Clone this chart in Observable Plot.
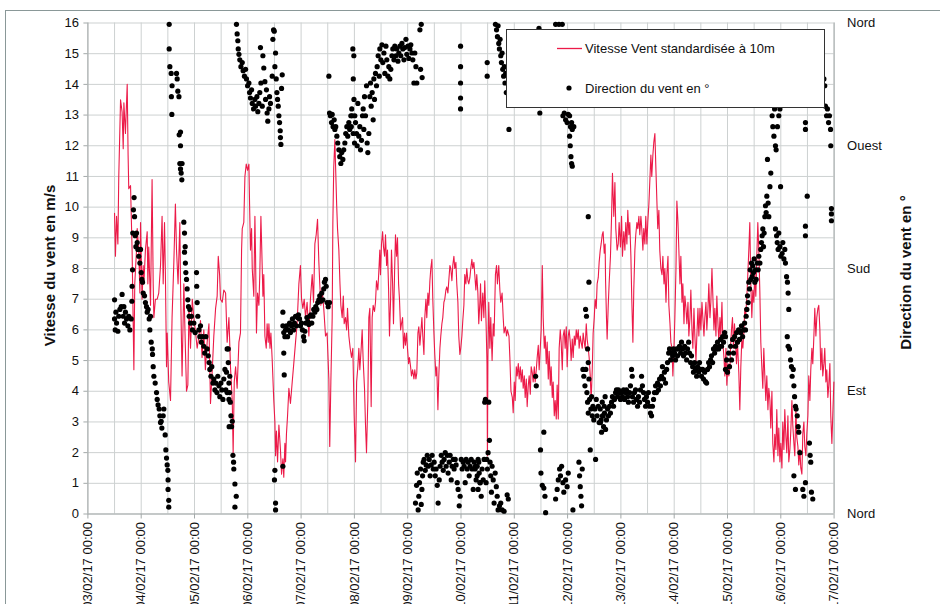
<!DOCTYPE html>
<html><head><meta charset="utf-8">
<script src="https://cdn.jsdelivr.net/npm/d3@7"></script>
<script src="https://cdn.jsdelivr.net/npm/@observablehq/plot@0.6"></script>
<style>
body{margin:0;background:#fff;overflow:hidden}
#chart{width:940px;height:604px;overflow:hidden}
</style>
</head><body><div id="chart"></div>
<script>
// ---- DATA ----
const startISO = "2017-02-03T00:00:00Z";
const endISO = "2017-02-17T00:00:00Z";
const dayTicks = ["2017-02-03","2017-02-04","2017-02-05","2017-02-06","2017-02-07","2017-02-08","2017-02-09","2017-02-10","2017-02-11","2017-02-12","2017-02-13","2017-02-14","2017-02-15","2017-02-16","2017-02-17"];
const speedTicks = [0,1,2,3,4,5,6,7,8,9,10,11,12,13,14,15,16];
const dirTickDegrees = [0,90,180,270,360];
const dirTickNames = ["Nord","Est","Sud","Ouest","Nord"];
const legendLabels = ["Vitesse Vent standardisée à 10m","Direction du vent en °"];
const axisTitles = ["Vitesse du vent en m/s","Direction du vent en °"];

// wind speed [hours since 03/02/17 00:00, m/s]
const windSpeed = [
[12.0,9.8],[12.4,8.4],[12.9,9.7],[13.5,8.8],[13.9,11.0],[14.7,13.5],[15.4,13.1],[15.9,11.9],[16.2,13.4],[16.9,12.4],[17.7,14.0],[18.1,11.7],[18.4,10.6],[19.2,10.7],[19.9,8.6],[20.7,4.7],[21.1,7.5],[21.9,8.6],[22.2,9.3],[22.9,8.6],[23.4,7.2],[23.7,9.5],[24.4,7.0],[24.9,8.1],[25.2,7.5],[25.9,8.6],[26.7,9.2],[27.0,7.5],[27.4,8.7],[28.2,6.8],[28.9,10.9],[29.4,7.5],[29.7,6.4],[30.4,7.0],[31.2,7.0],[31.9,7.2],[32.7,8.1],[33.4,9.7],[33.9,7.5],[34.5,9.5],[34.9,7.8],[35.4,4.8],[35.7,5.9],[36.4,4.3],[37.2,3.7],[37.9,6.4],[38.7,8.2],[39.4,10.1],[39.9,8.6],[40.6,7.5],[41.4,9.5],[41.7,7.5],[42.4,4.5],[43.2,7.5],[43.9,5.4],[44.4,4.0],[45.0,4.2],[45.5,6.7],[46.2,5.4],[47.0,7.0],[47.7,6.4],[48.5,5.9],[49.2,5.4],[50.0,5.8],[50.7,6.3],[51.4,5.1],[52.2,6.0],[52.9,4.7],[53.7,5.6],[54.5,6.2],[55.2,3.6],[56.0,4.7],[56.7,5.8],[57.5,6.7],[58.2,7.1],[58.7,8.4],[59.3,7.8],[59.7,7.0],[60.5,6.9],[61.2,7.3],
[62.0,7.2],[62.7,5.6],[63.5,6.4],[64.2,4.8],[65.0,3.7],[65.4,2.0],[65.9,4.3],[66.5,4.8],[67.2,4.1],[68.0,5.6],[68.7,5.9],[69.2,8.6],[69.5,9.3],[70.2,9.5],[70.7,11.0],[71.3,11.4],[71.9,11.2],[72.5,11.4],[72.8,10.1],[73.2,8.6],[73.7,9.3],[74.0,8.0],[74.7,7.1],[75.2,9.7],[75.5,8.4],[75.9,5.9],[76.4,7.2],[77.0,6.8],[77.4,7.8],[77.9,9.7],[78.3,8.6],[78.8,7.1],[79.2,7.8],[79.7,5.8],[80.3,5.4],[80.7,6.2],[81.2,5.6],[81.5,6.2],[82.0,5.4],[82.4,5.9],[83.0,5.0],[83.7,3.7],[84.2,3.0],[84.5,1.9],[84.9,2.7],[85.4,1.7],[86.0,2.9],[86.7,2.1],[87.2,1.3],[87.8,1.8],[88.2,1.2],[88.7,2.3],[89.0,1.7],[89.4,2.6],[89.9,3.2],[90.5,4.1],[91.2,3.6],[92.0,4.3],[92.7,4.9],[93.5,5.6],[94.2,6.2],[95.0,7.5],[95.7,8.1],[96.2,7.0],[96.8,6.7],[97.4,7.0],[98.0,6.4],[98.7,6.9],[99.5,5.8],[100.2,7.0],[101.0,7.8],[101.6,6.9],[102.2,8.8],[102.8,9.1],[103.4,9.6],[104.0,8.2],[104.4,7.5],[104.9,6.8],[105.5,7.3],[106.2,6.7],[107.0,5.8],[107.7,5.9],[108.5,4.4],[108.9,2.2],[109.4,4.3],[110.0,6.4],[110.3,9.5],[110.7,11.3],[111.2,12.2],[111.5,11.4],[112.0,10.1],[112.4,9.3],[113.0,8.6],[113.5,7.5],[113.9,6.8],[114.5,6.4],[115.0,7.1],[115.4,6.2],[116.0,6.4],[116.5,6.0],[116.9,6.7],[117.5,5.8],[118.1,5.4],[118.7,5.1],[119.3,5.4],[119.9,3.2],[120.5,1.7],
[121.0,4.3],[121.55,4.8],[122.0,5.4],[122.45,4.7],[123.05,5.4],[123.5,6.0],[123.95,5.0],[124.55,4.1],[125.0,2.9],[125.45,2.0],[126.05,3.7],[126.5,6.4],[126.95,6.7],[127.55,3.5],[128.0,6.4],[128.45,6.8],[129.05,6.6],[129.5,6.9],[129.95,7.6],[130.55,7.3],[131.0,7.9],[131.45,8.6],[131.75,7.8],[132.2,8.8],[132.7,9.2],[133.1,8.7],[133.6,8.4],[134.0,9.1],[134.5,8.1],[134.9,8.6],[135.4,7.3],[135.8,5.8],[136.3,7.0],[136.7,8.6],[137.2,7.5],[137.6,6.2],[138.1,7.9],[138.5,9.1],[139.0,8.4],[139.4,9.0],[139.9,7.5],[140.3,7.0],[140.8,6.0],[141.2,6.2],[141.7,6.4],[142.1,5.4],[142.6,5.9],[143.0,5.5],[143.5,5.9],[143.9,5.4],[144.4,4.9],[144.8,5.1],[145.3,4.8],[145.7,4.5],[146.2,4.7],[146.8,4.4],[147.2,4.7],[147.7,4.4],[148.1,4.6],[148.6,5.9],[149.0,6.1],[149.5,5.5],[149.9,5.9],[150.4,6.4],[150.8,5.8],[151.3,5.2],[151.7,6.4],[152.2,7.0],[152.6,6.4],[153.1,7.2],[153.5,6.8],[154.0,7.6],[154.4,8.0],[154.9,8.3],[155.3,7.0],[155.8,5.9],[156.2,5.2],[156.7,4.5],[157.1,4.8],[157.6,3.4],[158.0,4.5],[158.5,5.4],[158.9,5.8],[159.4,6.2],[159.8,6.4],[160.3,6.9],[160.7,7.0],[161.2,7.3],[161.6,7.4],[162.1,7.2],[162.5,7.6],[163.0,8.1],[163.4,8.0],[163.9,7.6],[164.3,8.1],[164.8,8.4],[165.2,8.0],[165.7,8.2],[166.1,7.5],[166.6,6.9],[167.0,5.8],[167.5,5.2],[167.9,5.4],[168.4,5.8],[168.8,6.3],[169.3,6.8],[169.7,7.8],[170.2,7.5],[170.6,8.0],[171.1,7.6],[171.5,7.5],[172.0,7.7],[172.4,8.0],[172.9,8.3],[173.3,8.0],[173.8,8.2],[174.2,7.8],[174.7,7.3],[175.1,7.8],[175.6,7.2],[176.0,6.2],[176.5,6.9],
[176.8,7.5],[177.2,6.3],[177.8,7.2],[178.3,6.4],[178.7,7.6],[179.3,6.2],[179.7,4.9],[179.9,1.9],[180.1,5.0],[180.5,6.9],[181.0,5.4],[181.4,6.4],[182.0,5.0],[182.5,6.2],[182.9,5.8],[183.5,7.8],[184.0,8.1],[184.4,7.5],[185.0,8.1],[185.5,7.3],[185.9,6.9],[186.5,7.2],[187.0,6.4],[187.4,5.9],[188.0,6.1],[188.5,5.8],[188.9,6.0],[189.6,5.8],[190.0,5.1],[190.5,4.0],[191.1,3.8],[191.5,3.3],[192.0,4.3],[192.4,3.7],[192.9,4.8],[193.3,4.5],[193.8,4.9],[194.2,4.4],[194.7,4.8],[195.1,4.3],[195.6,4.7],[196.0,4.1],[196.5,4.5],[196.9,3.8],[197.4,4.4],[197.8,3.5],[198.3,4.2],[198.7,4.5],[199.2,3.9],[199.6,4.8],[200.1,4.6],[200.5,4.3],[201.0,4.8],[201.4,4.3],[201.9,4.7],[202.3,5.1],[202.8,5.5],[203.2,4.7],[203.7,5.4],[204.1,6.0],[204.6,8.1],[205.0,6.4],[205.5,5.4],[205.9,5.8],[206.4,4.9],[206.8,5.6],[207.3,4.4],[207.7,5.3],[208.2,4.2],[208.6,4.8],[209.1,3.8],[209.5,4.3],[210.0,3.2],[210.4,3.7],[210.9,3.1],[211.3,4.2],[211.8,3.1],[212.2,5.4],[212.7,6.0],[213.1,5.6],[213.6,4.7],[214.0,5.8],[214.5,6.0],[214.9,5.4],[215.4,6.1],[215.8,4.8],[216.3,5.8],[216.7,6.0],[217.2,5.6],[217.6,5.0],[218.1,5.7],[218.5,5.1],[219.0,5.8],[219.4,5.5],[219.9,6.0],[220.3,5.7],[220.8,6.0],[221.2,5.4],[221.7,5.8],[222.1,5.6],[222.6,5.4],[223.0,5.9],[223.5,5.6],[223.9,5.4],[224.4,6.2],[224.8,5.7],[225.3,5.4],[225.7,5.1],[226.2,4.5],[226.6,3.7],[227.1,4.7],[227.5,5.9],[228.0,6.4],[228.4,7.0],[228.9,6.7],[229.3,7.5],[229.8,7.7],[230.2,8.2],[230.7,8.6],[231.1,8.8],[231.6,9.1],[232.0,9.2],[232.5,8.5],[232.9,8.8],
[233.1,7.6],[233.5,6.4],[233.8,5.7],[234.3,6.8],[234.7,7.5],[235.3,8.4],[235.8,9.7],[236.2,11.1],[236.8,9.7],[237.3,10.8],[237.7,9.3],[238.3,8.6],[238.8,8.8],[239.2,9.5],[239.8,8.7],[240.3,9.7],[240.7,8.4],[241.3,9.2],[241.8,8.6],[242.2,9.5],[242.7,8.8],[243.1,9.9],[243.6,9.1],[244.0,9.5],[244.5,8.4],[244.9,7.0],[245.4,5.6],[245.8,7.3],[246.3,8.6],[246.7,9.1],[247.2,9.5],[247.6,9.3],[248.1,9.7],[248.5,9.1],[249.0,9.7],[249.4,9.3],[249.9,8.6],[250.3,9.3],[250.8,8.8],[251.2,9.7],[251.7,8.8],[252.1,9.5],[252.6,10.1],[253.0,10.8],[253.5,11.7],[253.9,11.0],[254.4,11.7],[254.8,12.1],[255.3,12.4],[255.7,11.4],[256.2,10.2],[256.6,9.3],[257.1,9.9],[257.5,8.6],[258.0,8.0],[258.5,7.8],[258.9,8.4],[259.4,7.5],[259.8,8.0],[260.3,6.9],[260.7,7.8],[261.2,8.4],[261.6,6.8],[262.1,6.2],[262.5,5.6],[263.0,5.4],[263.4,4.5],[263.9,5.4],[264.3,6.4],[264.8,8.0],[265.2,10.2],[265.7,9.5],[266.1,8.6],[266.6,7.5],[267.0,8.4],[267.5,6.9],[267.9,7.5],[268.4,6.2],[268.8,7.1],[269.3,6.7],[269.7,6.2],[270.2,6.9],[270.6,5.8],[271.1,6.4],[271.5,7.3],[272.0,6.0],[272.4,5.4],[272.9,6.7],[273.3,5.8],[273.8,5.0],[274.2,5.8],[274.7,6.7],[275.1,5.8],[275.6,6.7],[276.0,6.0],[276.5,6.9],[276.9,6.4],[277.4,5.8],[277.8,6.4],[278.3,6.9],[278.7,6.0],[279.2,6.7],[279.6,7.5],[280.1,6.4],[280.5,6.9],[281.0,8.0],[281.4,7.1],[281.9,6.0],[282.3,6.7],[282.8,5.8],[283.2,7.1],[283.7,6.2],[284.1,5.6],[284.6,6.4],[285.0,5.8],[285.5,6.9],[285.9,5.6],[286.4,5.1],[286.8,4.5],[287.3,5.4],[287.7,4.2],[288.2,4.9],[288.6,4.5],[289.1,4.8],
[289.35,5.4],[289.8,6.0],[290.25,6.4],[290.7,5.4],[291.15,6.2],[291.6,5.6],[292.05,4.9],[292.5,5.6],[293.1,4.6],[293.55,3.4],[294.0,4.8],[294.45,5.7],[294.9,5.4],[295.35,5.9],[295.8,6.7],[296.25,6.5],[296.85,7.3],[297.6,8.6],[298.05,9.5],[298.5,7.5],[298.95,6.4],[299.4,7.3],[299.85,6.9],[300.3,7.8],[300.75,7.1],[301.2,8.4],[301.65,9.5],[302.1,8.6],[302.55,7.3],[303.0,5.6],[303.45,4.8],[303.9,4.1],[304.35,5.4],[304.8,4.5],[305.25,3.7],[305.7,4.5],[306.2,3.4],[306.6,4.1],[307.1,3.7],[307.5,2.8],[308.0,4.0],[308.4,2.3],[308.9,1.7],[309.3,2.6],[309.8,2.1],[310.2,3.4],[310.7,1.9],[311.1,2.8],[311.6,1.7],[312.0,2.3],[312.5,1.5],[312.9,3.0],[313.4,2.1],[313.8,3.4],[314.3,2.5],[314.7,2.0],[315.2,3.2],[315.6,1.7],[316.1,2.1],[316.5,2.7],[317.0,3.7],[317.4,2.9],[317.9,2.3],[318.3,1.9],[318.8,3.4],[319.2,2.5],[319.7,2.2],[320.1,1.6],[320.6,2.1],[321.0,1.5],[321.5,1.3],[321.9,2.6],[322.4,3.0],[322.8,2.2],[323.3,1.9],[323.7,2.6],[324.2,3.2],[324.6,4.5],[325.1,3.7],[325.5,4.7],[326.0,5.4],[326.4,4.9],[326.9,5.8],[327.3,6.7],[327.8,5.8],[328.2,6.4],[328.7,6.7],[329.1,6.8],[329.6,6.0],[330.0,4.7],[330.5,5.4],[330.9,4.5],[331.4,4.9],[331.8,5.4],[332.3,4.3],[332.7,4.7],[333.2,3.8],[333.6,4.2],[334.1,4.9],[334.5,3.2],[335.0,2.3],[335.4,3.2],[335.9,4.3]
];

// wind direction [hours since 03/02/17 00:00, degrees]
const windDirection = [
[12.0,157],[12.0,143],[12.3,135],[12.6,148],[12.9,140],[13.5,134],[13.9,145],[14.4,150],[15.0,152],[15.4,161],[15.9,145],[16.2,152],[16.5,140],[16.9,148],[17.4,143],[18.0,138],[18.4,145],[18.9,135],[19.5,143],[19.8,156],[19.9,167],[20.1,179],[20.2,206],[20.5,223],[20.8,232],[21.0,218],[21.3,204],[21.6,196],[21.9,206],[22.2,199],[22.5,194],[22.9,189],[23.4,184],[23.7,194],[24.0,177],[24.3,172],[24.6,170],[24.9,162],[25.5,160],[25.9,155],[26.4,152],[26.7,148],[27.1,150],[27.6,143],[27.9,135],[28.2,145],[28.5,126],[29.0,121],[29.1,117],[29.4,108],[29.7,101],[30.3,96],[30.9,89],[31.2,84],[31.6,80],[32.1,77],[32.4,72],[32.7,67],[33.0,68],[33.3,63],[33.9,72],[34.2,77],[34.8,58],[35.1,47],[35.4,41],[35.7,36],[36.0,32],[36.1,25],[36.1,18],[36.4,10],[36.4,5],
[36.6,359],[36.6,341],[36.9,328],[37.5,323],[37.9,314],[37.6,306],[37.8,293],[39.9,323],[40.2,319],[40.5,310],[41.0,306],[41.1,278],[41.7,280],[41.7,270],[41.4,257],[41.7,253],[42.0,250],[42.3,245],[42.4,257],
[43.2,214],[43.5,206],[43.8,196],[43.5,192],[43.9,184],[44.1,177],[44.4,172],[44.7,165],[45.0,157],[45.3,152],[45.6,145],[45.9,150],[46.2,140],[46.6,145],[47.1,135],[47.7,140],[48.3,133],[48.9,177],[49.0,167],[49.2,155],[49.5,145],[50.0,135],[50.4,130],[50.7,138],[51.1,126],[51.6,130],[52.2,123],[52.6,118],[53.1,130],[53.7,121],[54.2,116],[54.6,111],[54.9,106],[55.4,101],[55.8,108],[56.3,96],[56.7,99],[57.2,91],[57.6,96],[58.1,89],[58.5,101],[59.0,94],[59.4,86],[59.9,96],[60.3,91],[60.8,84],[61.2,99],[61.7,106],[62.1,91],[62.7,89],[63.2,121],[63.5,84],[63.6,64],[63.9,101],
[62.7,121],[62.4,104],[63.2,111],[63.5,96],[63.8,89],[64.1,82],[64.4,72],[64.7,64],[65.0,68],[65.3,43],[65.6,38],[65.7,33],[66.2,22],[66.8,13],[66.2,5],
[66.9,359],[67.2,352],[67.5,347],[67.7,341],[68.0,337],[68.4,333],[68.9,328],[69.5,331],[69.9,325],[70.5,321],[71.0,326],[71.4,319],[71.9,314],[72.5,316],[72.8,309],[73.2,305],[73.7,311],[74.0,301],[74.6,297],[75.2,304],[75.5,299],[76.1,306],[76.5,295],[77.0,301],[77.4,309],[77.9,316],[77.7,342],[78.5,299],[78.8,336],[79.2,327],[79.7,317],[80.0,304],[80.4,311],[80.7,294],[81.0,288],[81.5,297],[81.8,306],[82.2,301],[83.0,321],[83.3,348],[83.6,355],[83.9,354],[84.5,338],[84.2,328],[84.8,319],[85.1,309],[85.4,304],[85.7,299],[86.0,292],[86.3,287],[86.6,281],[86.7,276],[86.9,271],[87.5,322],[87.2,312],
[84.2,32],[84.0,25],[84.5,8],[84.5,3],[87.8,35],[87.8,148],[88.2,118],[88.4,102],
[87.8,138],[88.2,133],[88.7,130],[89.0,135],[89.4,138],[89.9,130],[90.3,135],[90.8,140],[91.2,133],[91.7,138],[92.1,143],[92.6,135],[93.0,140],[93.5,145],[93.9,138],[94.4,144],[94.8,146],[95.3,143],[95.7,138],[96.2,140],[96.6,135],[97.1,130],[97.4,127],[97.7,134],[98.1,140],[98.6,144],[99.0,141],[99.5,139],[99.9,145],[100.4,146],[100.8,140],[101.3,145],[101.7,150],[102.2,148],[102.6,152],[103.1,150],[103.5,155],[104.0,157],[104.4,160],[104.9,156],[105.3,162],[105.8,157],[106.2,165],[106.5,170],[107.0,172],[107.3,167],[107.7,155],[108.2,152],[108.8,155],
[108.5,321],[108.8,294],[109.2,292],[109.7,287],[110.0,293],[110.4,284],[110.9,289],[111.2,282],[111.6,284],[112.1,277],[112.5,272],[113.0,267],[113.4,262],[113.9,257],[114.3,265],[114.8,260],[115.2,267],[115.7,272],[116.1,279],[116.6,284],[117.0,277],[117.5,287],[117.9,282],[118.4,292],[118.8,297],[119.3,341],[119.5,319],[119.8,304],[120.2,292],
[118.6,284],[119.0,292],[119.45,279],[119.75,336],[120.05,272],[120.5,287],[120.95,279],[121.25,270],[121.55,301],[122.0,277],[122.45,284],[122.75,267],[123.2,274],[123.65,292],[123.95,297],[124.25,282],[124.55,306],[125.0,292],[125.45,314],[125.75,272],[126.05,265],[126.5,279],[126.95,306],[127.25,316],[127.55,299],[128.0,309],[128.45,289],[128.75,319],[129.05,304],[129.5,323],[129.95,314],[130.25,328],[130.7,336],[131.2,321],[131.45,341],[131.9,333],[132.4,344],[132.8,331],[133.3,338],[133.7,323],[134.2,343],[134.6,333],[135.1,321],[135.5,328],[135.96,319],[136.4,326],[136.9,336],[137.3,341],[137.8,333],[138.2,343],[138.7,336],[139.1,341],[139.6,332],[140.0,338],[140.5,343],[140.9,336],[141.4,345],[141.8,341],[142.3,333],[142.7,342],[143.2,348],[143.6,337],[144.1,343],[144.5,334],[145.0,341],[145.4,344],[145.9,338],[146.3,333],[146.8,316],[147.2,338],[147.7,328],[148.1,316],[149.5,355],[150.1,359],[149.8,326],[150.5,320],
[167.8,343],[167.8,328],[167.8,316],[167.8,305],[167.8,297],
[147.5,8],[148.0,21],[148.3,30],[148.7,3],[149.0,13],[149.3,23],[149.8,33],[150.1,7],[150.4,18],[150.7,28],[151.0,38],[151.4,40],[151.9,32],[152.3,36],[152.8,43],[153.2,35],[153.7,40],[154.1,28],[154.6,36],[155.0,43],[155.5,33],[155.9,38],[156.4,28],[156.8,33],[157.3,21],[157.7,8],[158.2,25],[158.6,35],[159.1,43],[159.5,38],[160.0,32],[160.4,40],[160.9,45],[161.3,35],[161.8,43],[162.2,30],[162.7,38],[163.1,43],[163.6,25],[164.0,35],[164.5,40],[164.9,33],[165.4,40],[165.8,36],[166.3,23],[166.7,18],[167.2,6],[167.6,13],[168.1,40],[168.5,33],[169.0,38],[169.4,35],[169.9,23],[170.3,40],[170.8,33],[171.2,38],[171.7,28],[172.1,35],[172.6,40],[173.0,33],[173.5,18],[173.9,38],[174.4,33],[174.8,25],[175.3,35],[175.7,40],[176.2,30],[176.6,23],
[174.5,35],[175.3,28],[175.7,18],[176.0,38],[176.6,23],[177.1,13],[177.5,33],[178.0,25],[178.4,40],[178.7,82],[179.0,84],[179.3,23],[179.6,40],[179.9,33],[180.2,45],[180.5,82],[180.8,54],[181.1,38],[181.4,28],[181.7,16],[182.0,35],[182.5,25],[182.9,8],[183.4,30],[183.9,20],[184.3,13],[184.7,3],[185.3,6],[185.9,8],[186.5,3],[187.4,2],[188.8,14],[189.3,11],
[179.8,331],[179.8,321],[183.5,359],[184.0,355],[184.4,350],[184.7,358],[185.0,345],[185.3,341],[185.6,348],[185.9,336],[186.2,331],[186.5,338],[186.8,326],[187.2,321],[187.5,328],[187.8,316],[188.1,323],[188.4,309],[189.6,282],[203.1,356],[203.5,294],[210.6,359],[212.1,359],[213.6,359],[213.9,292],[214.5,294],[215.1,289],[215.8,287],[216.3,293],[216.9,292],[217.3,284],[217.8,287],[218.1,282],[218.8,284],[216.9,277],[217.2,270],[217.5,262],[217.8,257],[218.1,255],
[201.6,101],[201.9,94],[203.8,47],[204.0,30],[204.6,21],[205.3,60],[205.3,19],[205.8,13],[206.1,1],[210.6,11],[211.3,18],[211.8,25],[212.4,33],[212.8,28],[213.3,35],[213.9,23],[214.3,16],[215.1,25],[215.8,20],[216.3,30],[218.4,3],[221.1,38],[221.4,28],[221.7,20],[222.0,13],[222.3,6],[222.6,33],
[225.3,218],[225.6,170],[224.1,150],[224.5,145],[225.0,121],[225.3,111],[222.9,106],[223.3,101],[223.8,94],[224.2,106],[224.7,89],[225.0,82],[225.3,74],[225.6,99],[225.9,84],[226.2,47],[226.5,77],[226.8,86],[227.1,72],[227.4,79],[227.8,69],[228.3,77],[228.6,40],[228.9,84],[229.3,72],[229.8,79],[230.2,67],[230.7,77],[231.1,69],[231.6,82],[232.0,72],[232.5,79],[232.9,86],
[230.8,67],[231.3,60],[231.7,72],[232.2,64],[232.6,74],[233.1,62],[233.5,69],[234.0,77],[234.4,72],[234.9,79],[235.3,74],[235.8,82],[236.2,86],[236.7,79],[237.1,84],[237.6,89],[238.0,91],[238.5,86],[238.9,91],[239.4,89],[239.8,84],[240.3,89],[240.7,86],[241.2,91],[241.6,84],[242.1,89],[242.5,91],[243.0,86],[243.4,82],[243.9,89],[244.3,94],[244.8,106],[245.1,101],[245.2,86],[245.7,82],[246.1,89],[246.6,91],[247.0,84],[247.5,79],[247.9,86],[248.4,82],[248.8,91],[249.3,101],[249.7,94],[250.2,89],[250.6,84],[251.1,79],[251.5,86],[252.0,82],[252.4,89],[252.9,79],[253.3,74],[253.8,72],[254.2,79],[254.7,84],[255.1,89],[255.6,94],[256.0,89],[256.5,96],[256.9,91],[257.4,99],[257.8,94],[258.3,101],[258.7,108],[259.2,99],[259.6,104],[260.1,96],[260.6,106],[261.0,111],[261.5,118],[261.9,121],[262.4,113],[262.8,118],[263.3,116],[263.7,121],[264.2,118],[264.6,113],[265.1,121],[265.5,116],[266.0,121],[266.4,123],[266.9,118],[267.3,126],[267.8,121],[268.2,116],[268.7,123],[269.1,118],[269.6,113],[270.0,121],[270.5,126],[270.9,118],[271.4,111],[271.8,116],[272.3,108],[272.7,104],[273.2,111],[273.6,106],[274.1,101],[274.5,108],[275.0,104],[275.4,111],[275.9,106],[276.3,101],[276.8,106],[277.2,99],[277.7,104],[278.1,97],[278.6,96],[279.0,106],[279.5,111],[279.9,108],[280.4,113],[280.8,116],[281.3,111],[281.7,121],[282.2,118],[282.6,123],[283.1,121],[283.5,126],[284.0,121],[284.4,123],[284.9,128],[285.3,123],[285.8,130],[286.2,126],[286.7,133],[287.1,130],
[287.1,106],[287.6,113],[288.0,104],[288.5,118],[288.9,108],[289.4,123],[289.8,113],[290.3,128],[290.7,118],[291.2,130],[291.6,123],[292.1,133],[292.5,126],[293.0,135],[293.4,128],[293.9,133],[294.3,138],[294.8,130],[295.2,135],[295.7,140],[296.1,135],[296.4,145],[296.7,150],[297.0,160],[297.3,155],[297.6,170],[297.9,165],[298.2,179],[298.5,172],[298.8,184],[299.1,174],[299.4,182],[299.7,177],[300.0,187],[300.3,170],[300.6,179],[300.9,172],[301.4,184],[301.8,179],[302.1,189],[302.6,184],[303.0,194],[303.3,199],[303.6,204],[303.9,209],[304.2,196],[304.5,206],[304.8,218],[305.1,226],[305.4,221],[305.7,233],[306.0,260],[306.3,228],[306.6,218],[307.1,240],[307.5,250],[308.1,292],[308.4,284],[308.9,277],[309.2,297],[309.6,270],[309.9,267],[310.5,284],[311.1,292],[311.6,297],[311.9,240],
[309.6,209],[310.1,204],[310.4,199],[310.8,194],[311.1,206],[311.6,196],[312.0,189],[312.6,191],[312.9,199],[313.4,187],[313.8,194],[314.1,184],[314.6,174],[315.0,170],[315.3,162],[315.6,150],[314.9,130],[315.3,123],[315.9,121],[316.4,113],[316.8,108],[317.1,101],[317.6,106],[317.9,94],[318.2,86],[318.6,79],[318.9,77],[319.4,72],[319.8,64],[320.1,60],[320.6,45],[317.9,28],[318.6,18],[321.9,18],[322.4,13],[323.1,23],
[323.1,287],[323.1,282],[323.9,233],[323.1,211],[323.1,204],[324.9,52],[325.2,43],[325.5,38],[325.8,16],[326.4,11],
[331.4,319],[331.8,314],[332.1,299],[332.6,292],[333.0,297],[333.5,287],[333.9,292],[334.4,282],[334.5,270],[334.8,224],[334.8,220],[334.8,215]
];

// ---- CHART ----
const RED = "#ec1a48";
const GRID = "#cdd1d1";
const AXIS = "#a3a9a9";
const t0 = new Date(startISO), t1 = new Date(endISO);
const atHour = h => new Date(+t0 + h * 3600e3);
const speed = windSpeed.map(([h, v]) => ({date: atHour(h), v}));
const dirs = windDirection.map(([h, deg]) => ({date: atHour(h), deg}));
const degToScale = deg => deg * 16 / 360;
const dayDates = dayTicks.map(s => new Date(s + "T00:00:00Z"));
const halfDays = d3.utcHour.every(12).range(t0, new Date(+t1 + 1));
const dirTickPos = dirTickDegrees.map(degToScale);
const dirName = new Map(dirTickPos.map((p, i) => [p, dirTickNames[i]]));
const fmt = d3.utcFormat("%d/%m/%y %H:%M");

const chart = Plot.plot({
  width: 940, height: 604,
  marginLeft: 87.4, marginRight: 106.4, marginTop: 22.5, marginBottom: 90.5,
  style: {fontFamily: "'Liberation Sans', Arial, sans-serif", fontSize: "13px", background: "white", color: "#111"},
  x: {type: "utc", domain: [t0, t1]},
  y: {domain: [0, 16]},
  marks: [
    Plot.ruleX(halfDays, {stroke: GRID, strokeWidth: 1}),
    Plot.ruleY(speedTicks, {stroke: GRID, strokeWidth: 1}),
    Plot.ruleX([t0, t1], {stroke: AXIS}),
    Plot.ruleY([0], {stroke: AXIS}),
    Plot.axisY(speedTicks, {anchor: "left", tickSize: 4, tickPadding: 5, fontSize: 13, label: null, stroke: AXIS}),
    Plot.axisY(dirTickPos, {anchor: "right", tickSize: 0, tickPadding: 13, fontSize: 13, label: null, tickFormat: d => dirName.get(d)}),
    Plot.axisX(dayDates, {anchor: "bottom", tickRotate: -90, tickSize: 5, tickPadding: 3, fontSize: 13, label: null, tickFormat: fmt, stroke: AXIS}),
    Plot.line(speed, {x: "date", y: "v", stroke: RED, strokeWidth: 1.1}),
    Plot.dot(dirs, {x: "date", y: d => degToScale(d.deg), r: 2.6, fill: "black", stroke: "none"}),
    Plot.text([axisTitles[0]], {frameAnchor: "left", textAnchor: "middle", dx: -38, dy: -3, rotate: -90, fontWeight: "bold", fontSize: 15, fill: "#111"}),
    Plot.text([axisTitles[1]], {frameAnchor: "right", textAnchor: "middle", dx: 72, dy: 4, rotate: -90, fontWeight: "bold", fontSize: 15, fill: "#111"})
  ]
});

// legend box drawn over the plot, and outer frame
const svg = d3.select(chart);
const lg = svg.append("g").attr("font-family", "'Liberation Sans', Arial, sans-serif").attr("font-size", 13).attr("text-anchor", "start");
lg.append("rect").attr("x", 506.5).attr("y", 29.5).attr("width", 318).attr("height", 78).attr("fill", "white").attr("stroke", "#333");
lg.append("line").attr("x1", 557).attr("x2", 582).attr("y1", 48.5).attr("y2", 48.5).attr("stroke", RED).attr("stroke-width", 1.3);
lg.append("text").attr("x", 585).attr("y", 48.5).attr("dy", "0.35em").attr("fill", "#111").text(legendLabels[0]);
lg.append("circle").attr("cx", 569).attr("cy", 88).attr("r", 2.6).attr("fill", "black");
lg.append("text").attr("x", 585).attr("y", 88).attr("dy", "0.35em").attr("fill", "#111").text(legendLabels[1]);
svg.append("rect").attr("x", 5.5).attr("y", 10.5).attr("width", 1000).attr("height", 1000).attr("fill", "none").attr("stroke", "#8a9898");

document.getElementById("chart").append(chart);
</script>
</body></html>
